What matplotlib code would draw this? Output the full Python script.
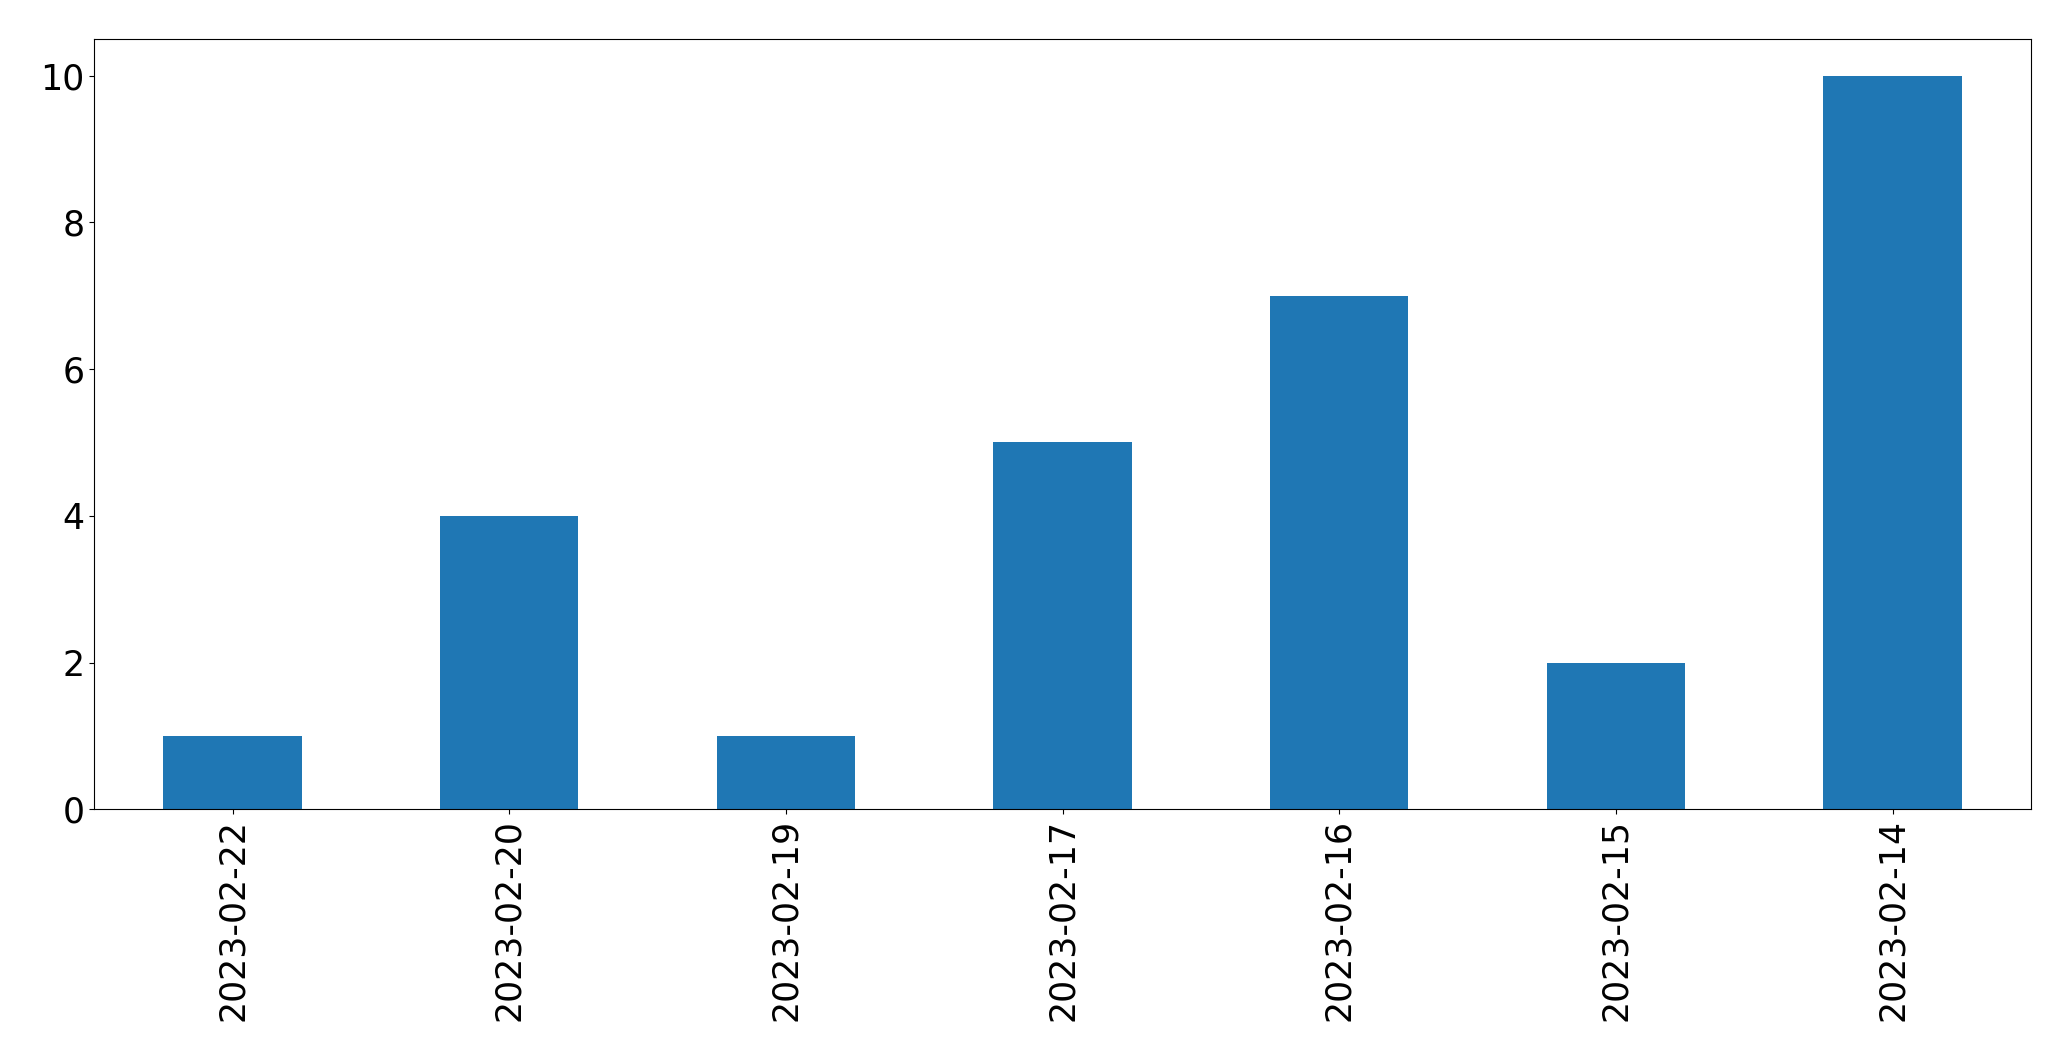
import matplotlib
matplotlib.use("Agg")
from matplotlib import pyplot as plt
import pandas as pd

dates = ["2023-02-22", "2023-02-20", "2023-02-19", "2023-02-17",
         "2023-02-16", "2023-02-15", "2023-02-14"]
counts = [1, 4, 1, 5, 7, 2, 10]

s = pd.Series(counts, index=dates)

fig = plt.figure(figsize=(20.71, 10.61), dpi=100)
ax = fig.add_axes([94.3 / 2071, 1 - 809.3 / 1061, (2031 - 94.3) / 2071, (809.3 - 39) / 1061])
s.plot(kind="bar", ax=ax, color="#1f77b4")
ax.tick_params(axis="both", labelsize=25)
fig.savefig("out.png", dpi=100)
